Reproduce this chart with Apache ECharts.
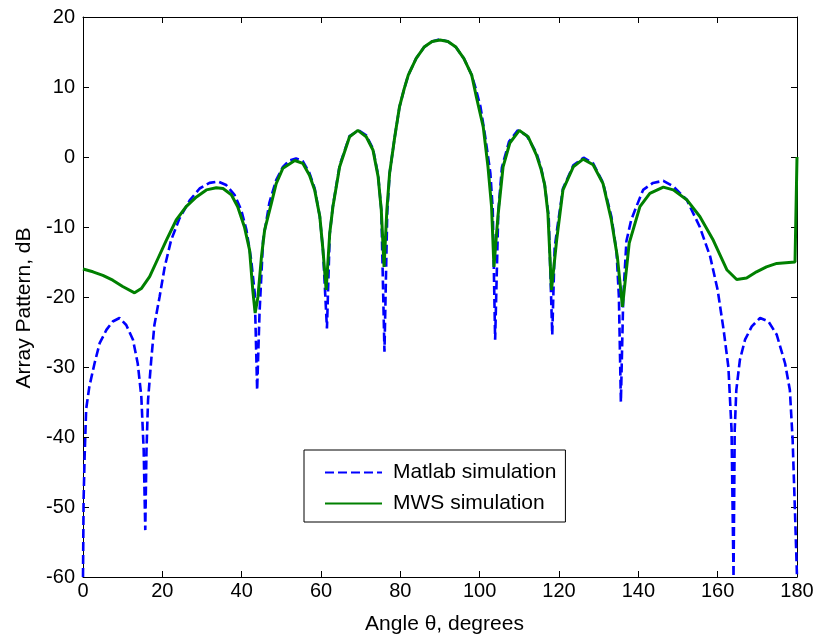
<!DOCTYPE html>
<html>
<head>
<meta charset="utf-8">
<script src="https://cdn.jsdelivr.net/npm/echarts/dist/echarts.min.js"></script>
<style>
html,body{margin:0;padding:0;background:#fff;}
#chart{width:817px;height:641px;}
</style>
</head>
<body>
<div id="chart"></div>
<script>
// ---- Data ----
const xTicks = [0, 20, 40, 60, 80, 100, 120, 140, 160, 180];
const yTicks = [-60, -50, -40, -30, -20, -10, 0, 10, 20];

const matlabAngle = [0,0.15,0.4,0.8,1.6,2.9,4.2,5.9,7.5,9.2,10.9,12.6,13.8,14.7,15.3,15.7,16.0,16.4,17.2,18.0,19.3,20.6,22.2,24.3,26.9,29.4,31.9,34,36.1,38.2,39.9,41.2,42.4,43.3,43.9,44.5,45.4,47,48.7,50.4,52,53.7,55.4,57.1,58.4,59.7,60.5,61.5,62.2,63,64.7,67.2,69.5,71.4,73.1,74.4,75.2,76.0,76.7,77.3,78.6,79.8,81,82,84,86,88,90,92,94,96,98,99,100.2,101.4,102.7,103.3,103.9,104.7,105.6,107.4,109.6,111.8,114.3,115.5,116.4,117.4,118.3,118.9,119.6,121,123.6,126.2,128.6,131.1,133.2,134.5,135.1,135.6,136.2,137,138.2,139.5,141.2,143.7,146.3,148.8,152.2,155.5,158.1,160,161.5,162.7,163.5,164,164.3,164.7,165.6,166.9,168.6,170.7,172.8,174.9,177,178.2,178.9,179.5,180];
const matlabDb = [-60,-49,-43,-36,-32.8,-29.5,-26.6,-24.7,-23.5,-23.0,-24.0,-26.1,-29.5,-34.2,-41.9,-53.3,-42,-34.7,-29,-24,-20,-15.7,-11.9,-8.8,-6.2,-4.5,-3.7,-3.5,-4.0,-5.4,-7.6,-10.4,-14.7,-19.5,-33.3,-22.3,-11.9,-6.5,-3.3,-1.4,-0.5,-0.2,-0.6,-2.3,-4.5,-8.5,-13.3,-24.5,-11,-7,-1.2,3.0,3.8,3.1,1.2,-2.6,-7.5,-27.8,-8,-2.3,2.9,7.2,9.8,11.7,14.1,15.7,16.5,16.8,16.5,15.7,14.1,11.7,9.8,7.2,2.9,-2.3,-7.5,-26.1,-7.8,-1.5,2.2,3.8,3.1,0.6,-1.6,-4.0,-8.5,-25.4,-13,-10,-4.5,-1.2,-0.1,-0.9,-3.7,-8.5,-13.5,-20,-35,-20,-12,-9,-7.1,-4.7,-3.7,-3.4,-4.2,-6.1,-10,-14.2,-19,-24.7,-30,-39,-60,-39,-33.3,-29,-26.1,-24.2,-23,-23.5,-25.4,-29.5,-33.3,-40.4,-50.9,-60];

const mwsAngle = [0,2.5,5,7.5,10,13,14.7,16.8,18.9,21,23.5,26,28.6,31.1,33.6,35.3,37.4,39,40.7,42,42.8,43.4,44.1,45,45.8,47.5,48.7,50.4,53.4,55.4,57.1,58.4,59.7,60.5,61.3,62.2,63,64.7,67.2,69.3,71.4,73.1,74.4,75.2,75.9,76.6,77.3,78.6,79.8,81,82,84,86,88,90,92,94,96,98,99.2,100.9,102.1,103,103.6,104.6,105.9,107.6,110,112.2,114.3,115.5,116.4,117.2,118.1,119.4,121,123.6,126.1,128.6,131.1,133.2,134.7,136.0,137.7,140.4,142.9,146.3,148.8,152.2,155.5,158.9,162.3,164.8,167.3,169.8,172.3,174.9,179.5,180];
const mwsDb = [-16.0,-16.4,-16.9,-17.6,-18.5,-19.4,-18.8,-17.1,-14.5,-11.9,-9.0,-7.1,-5.7,-4.7,-4.4,-4.5,-5.4,-7.1,-10.0,-13.3,-19,-22.3,-20,-14.2,-10.4,-6.6,-3.8,-1.6,-0.5,-0.9,-2.6,-4.7,-8.5,-13.3,-19,-10.9,-7.1,-1.4,2.9,3.8,2.9,1.0,-2.8,-7.6,-15.7,-7.6,-2.3,2.9,7.2,9.8,11.7,14.1,15.7,16.5,16.7,16.5,15.7,14.1,11.7,8.5,4.3,-1.4,-7.1,-15.7,-8.5,-1.4,2.0,3.8,2.9,0.3,-1.8,-4.0,-8,-19,-11.9,-4.7,-1.4,-0.3,-1.1,-3.8,-9.0,-14.2,-21.4,-12.3,-7.1,-5.2,-4.3,-4.7,-6.1,-8.5,-11.9,-16.1,-17.5,-17.3,-16.4,-15.7,-15.2,-15.0,0];

const seriesNames = ['Matlab simulation', 'MWS simulation'];
const xName = 'Angle \u03B8, degrees';
const yName = 'Array Pattern, dB';

// ---- Build chart ----
const pair = (a, b) => a.map((v, i) => [v, b[i]]);
const FONT = 'Liberation Sans, Arial, sans-serif';
const chart = echarts.init(document.getElementById('chart'), null, {renderer: 'canvas'});

const xMin = xTicks[0], xMax = xTicks[xTicks.length - 1], xInt = xTicks[1] - xTicks[0];
const yMin = yTicks[0], yMax = yTicks[yTicks.length - 1], yInt = yTicks[1] - yTicks[0];

const axisCommon = {
  type: 'value',
  axisLine: {show: true, onZero: false, lineStyle: {color: '#000', width: 1}},
  axisTick: {show: true, inside: true, length: 6, lineStyle: {color: '#000', width: 1}},
  splitLine: {show: false}
};

chart.setOption({
  animation: false,
  backgroundColor: '#fff',
  grid: {left: 83, right: 20, top: 17, bottom: 64, containLabel: false},
  xAxis: [
    Object.assign({}, axisCommon, {
      position: 'bottom', min: xMin, max: xMax, interval: xInt,
      axisLabel: {show: true, color: '#000', fontSize: 20, fontFamily: FONT, margin: 4},
      name: xName, nameLocation: 'middle', nameGap: 37,
      nameTextStyle: {color: '#000', fontSize: 21, fontFamily: FONT, padding: [0, 0, 0, 9]}
    }),
    Object.assign({}, axisCommon, {
      position: 'top', min: xMin, max: xMax, interval: xInt,
      axisLabel: {show: false}
    })
  ],
  yAxis: [
    Object.assign({}, axisCommon, {
      position: 'left', min: yMin, max: yMax, interval: yInt,
      axisLabel: {show: true, color: '#000', fontSize: 20, fontFamily: FONT, margin: 8},
      name: yName, nameLocation: 'middle', nameGap: 46, nameRotate: 90,
      nameTextStyle: {color: '#000', fontSize: 21, fontFamily: FONT, padding: [0, 22, 0, 0]}
    }),
    Object.assign({}, axisCommon, {
      position: 'right', min: yMin, max: yMax, interval: yInt,
      axisLabel: {show: false}
    })
  ],
  legend: {
    orient: 'vertical',
    left: 304, top: 450,
    padding: [12, 9, 8, 20],
    itemWidth: 57, itemHeight: 20, itemGap: 10,
    itemStyle: {opacity: 0},
    borderColor: '#000', borderWidth: 1, backgroundColor: '#fff',
    textStyle: {color: '#000', fontSize: 21, fontFamily: FONT, padding: [0, 0, 0, 6]},
    data: seriesNames
  },
  series: [
    {
      name: seriesNames[0], type: 'line', data: pair(matlabAngle, matlabDb),
      xAxisIndex: 0, yAxisIndex: 0,
      showSymbol: false, symbol: 'none', smooth: false,
      lineStyle: {color: '#0000FF', width: 2.6, type: [9, 4]},
      itemStyle: {color: '#0000FF'}
    },
    {
      name: seriesNames[1], type: 'line', data: pair(mwsAngle, mwsDb),
      xAxisIndex: 0, yAxisIndex: 0,
      showSymbol: false, symbol: 'none', smooth: false,
      lineStyle: {color: '#008000', width: 3},
      itemStyle: {color: '#008000'}
    }
  ]
});
</script>
</body>
</html>
